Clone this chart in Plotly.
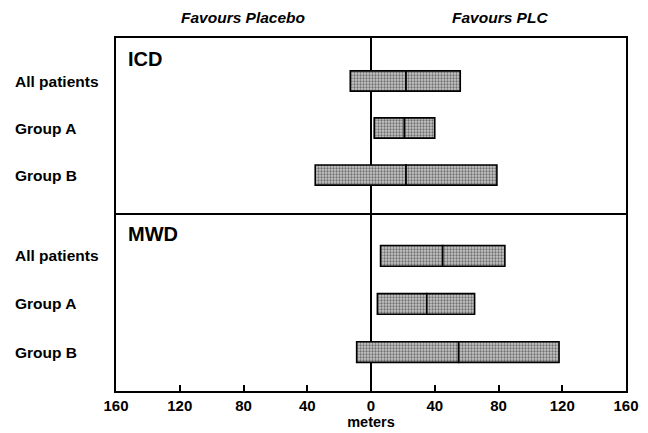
import plotly.graph_objects as go

rows = ["All patients", "Group A", "Group B"]
icd_low = [-13, 2, -35]
icd_med = [22, 21, 22]
icd_high = [56, 40, 79]
mwd_low = [6, 4, -9]
mwd_med = [45, 35, 55]
mwd_high = [84, 65, 118]
xticks = [-160, -120, -80, -40, 0, 40, 80, 120, 160]
xticklabels = [str(abs(v)) for v in xticks]

FONT = "Liberation Sans, Arial, sans-serif"
fill = dict(color="#c6c6c6",
            pattern=dict(shape=".", fgcolor="#1a1a1a", bgcolor="#c6c6c6", size=3, solidity=0.45),
            line=dict(color="black", width=1.6))

fig = go.Figure()
for low, med, high, xa, ya in [(icd_low, icd_med, icd_high, "x", "y"),
                               (mwd_low, mwd_med, mwd_high, "x2", "y2")]:
    fig.add_trace(go.Bar(y=rows, x=[m - l for l, m in zip(low, med)], base=low,
                         orientation="h", marker=fill, width=0.43,
                         xaxis=xa, yaxis=ya, showlegend=False, hoverinfo="skip"))
    fig.add_trace(go.Bar(y=rows, x=[h - m for m, h in zip(med, high)], base=med,
                         orientation="h", marker=fill, width=0.43,
                         xaxis=xa, yaxis=ya, showlegend=False, hoverinfo="skip"))

split = 176 / 353
common_x = dict(range=[-160, 160], showgrid=False, zeroline=True, zerolinecolor="black",
                zerolinewidth=1.6, showline=True, linecolor="black", linewidth=1.8,
                automargin=False)
common_y = dict(type="category", showgrid=False, showline=True, linecolor="black",
                linewidth=1.8, mirror=True, ticks="", showticklabels=False, automargin=False)

annotations = []
for yref in ["y", "y2"]:
    for r in rows:
        annotations.append(dict(text=r, xref="paper", yref=yref, x=(13 - 116) / 510, y=r,
                                xanchor="left", yanchor="middle", showarrow=False,
                                font=dict(family=FONT, size=15.5, color="black", weight="bold")))
annotations += [
    dict(text="<b>ICD</b>", xref="paper", yref="paper", x=10 / 510, y=1, yshift=-8,
         xanchor="left", yanchor="top", showarrow=False,
         font=dict(family=FONT, size=20, color="black")),
    dict(text="<b>MWD</b>", xref="paper", yref="paper", x=10 / 510, y=split, yshift=-6,
         xanchor="left", yanchor="top", showarrow=False,
         font=dict(family=FONT, size=20, color="black")),
    dict(text="<b><i>Favours Placebo</i></b>", xref="paper", yref="paper", x=(243 - 116) / 510, y=1,
         yshift=21, xanchor="center", yanchor="middle", showarrow=False,
         font=dict(family=FONT, size=15.5, color="black")),
    dict(text="<b><i>Favours PLC</i></b>", xref="paper", yref="paper", x=(500 - 116) / 510, y=1,
         yshift=21, xanchor="center", yanchor="middle", showarrow=False,
         font=dict(family=FONT, size=15.5, color="black")),
]

fig.update_layout(
    width=648, height=433,
    margin=dict(l=116, r=22, t=38, b=42, autoexpand=False),
    paper_bgcolor="white", plot_bgcolor="white",
    barmode="overlay",
    xaxis=dict(**common_x, anchor="y", side="top", mirror=False, showticklabels=False, ticks=""),
    yaxis=dict(**common_y, domain=[split, 1], anchor="x", range=[2.85, -0.915]),
    xaxis2=dict(**common_x, anchor="y2", mirror=True, tickvals=xticks, ticktext=xticklabels,
                ticks="inside", ticklen=6, tickwidth=1.5, tickcolor="black",
                tickfont=dict(family=FONT, size=15, color="black", weight="bold"),
                title=dict(text="meters", font=dict(family=FONT, size=14.5, color="black", weight="bold"),
                           standoff=3)),
    yaxis2=dict(**common_y, domain=[0, split], anchor="x2", range=[2.81, -0.85]),
    annotations=annotations,
)

fig.write_html("out.html", config={"displayModeBar": False},
               post_script="document.body.style.margin='0';document.body.style.padding='0';")
